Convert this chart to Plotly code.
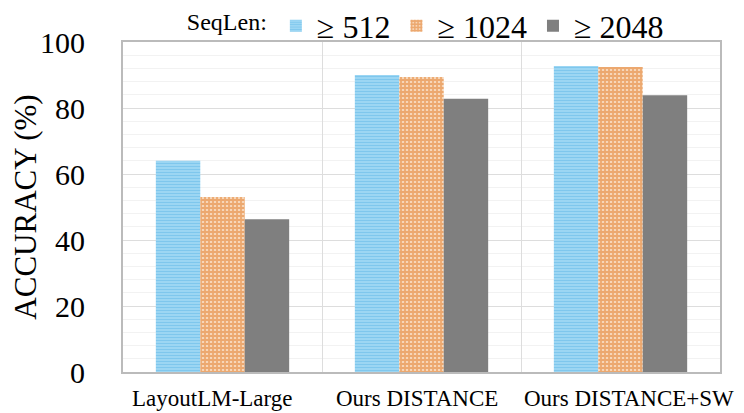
import plotly.graph_objects as go

categories = ["LayoutLM-Large", "Ours DISTANCE", "Ours DISTANCE+SW"]
series_names = ["\u2265 512", "\u2265 1024", "\u2265 2048"]
acc_512 = [64.0, 90.0, 92.7]
acc_1024 = [53.0, 89.4, 92.4]
acc_2048 = [46.3, 82.8, 83.9]
y_ticks = [0, 20, 40, 60, 80, 100]

FONT = "Liberation Serif"
label_shifts = [-10, -5, 8]

fig = go.Figure()
fig.add_trace(go.Bar(
    x=categories, y=acc_512, name=series_names[0],
    marker=dict(color="#8FD0F0", line=dict(width=0),
                pattern=dict(shape="-", fgcolor="#58B4E6", bgcolor="#A6DAF5", size=3, solidity=0.5)),
))
fig.add_trace(go.Bar(
    x=categories, y=acc_1024, name=series_names[1],
    marker=dict(color="#E8873A", line=dict(width=0),
                pattern=dict(shape="+", fgcolor="#E27A26", bgcolor="#F7D6B8", size=4, solidity=0.7)),
))
fig.add_trace(go.Bar(
    x=categories, y=acc_2048, name=series_names[2],
    marker=dict(color="#7F7F7F", line=dict(width=0)),
))

for cat, dx in zip(categories, label_shifts):
    fig.add_annotation(
        x=cat, y=0, xref="x", yref="paper", yanchor="top", xanchor="center",
        yshift=-12, xshift=dx, showarrow=False, text=cat,
        font=dict(size=23, family=FONT, color="black"),
    )

# page body has an 8px margin, so the figure is 8px smaller than the window
fig.update_layout(
    width=736, height=405,
    margin=dict(l=115, r=24, t=34, b=41, autoexpand=False),
    paper_bgcolor="white", plot_bgcolor="white",
    font=dict(family=FONT, color="black"),
    barmode="group", bargap=0.33, bargroupgap=0,
    showlegend=True,
    legend=dict(
        orientation="h", x=0.509, xanchor="center", y=0.965, yanchor="bottom",
        font=dict(size=32, family=FONT),
        title=dict(text="SeqLen:", font=dict(size=24, family=FONT), side="left"),
        bgcolor="rgba(0,0,0,0)", itemwidth=32, traceorder="normal",
    ),
    xaxis=dict(
        type="category", range=[-0.5, len(categories) - 0.5], autorange=False,
        tickson="boundaries", showgrid=True, gridcolor="#DDDDDD", gridwidth=1,
        ticks="", showticklabels=False, automargin=False,
        showline=True, linecolor="#BBBBBB", linewidth=2, mirror=True,
    ),
    yaxis=dict(
        range=[0, 100], autorange=False, tickvals=y_ticks, ticktext=[str(v) for v in y_ticks],
        tickfont=dict(size=30, family=FONT), ticks="", ticklabelstandoff=30,
        showgrid=True, gridcolor="#DDDDDD", gridwidth=1, automargin=False,
        minor=dict(dtick=4, showgrid=True, gridcolor="#F2F2F2", gridwidth=1),
        showline=True, linecolor="#BBBBBB", linewidth=2, mirror=True,
        title=dict(text="ACCURACY (%)", font=dict(size=31, family=FONT), standoff=2),
        zeroline=False,
    ),
)

fig.write_html("out.html")
